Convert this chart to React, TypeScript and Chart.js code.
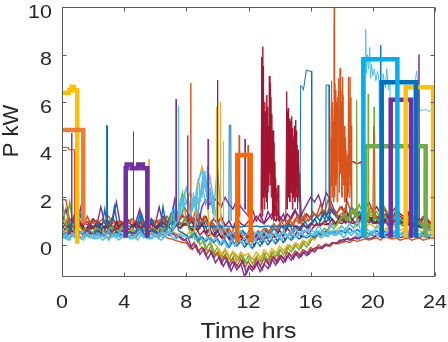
import React, { useEffect, useRef } from "react";
import { Chart, registerables } from "chart.js";
Chart.register(...registerables);

const FONT = "'Liberation Sans', Arial, Helvetica, sans-serif";
const X_TICKS = [0, 4, 8, 12, 16, 20, 24];
const Y_TICKS = [0, 2, 4, 6, 8, 10];
const X_LABEL = "Time hrs";
const Y_LABEL = "P kW";

// quarter-hour time grid (hours)
const HOURS = [
  0, 0.25, 0.5, 0.75, 1, 1.25, 1.5, 1.75, 2, 2.25, 2.5, 2.75, 3, 3.25, 3.5, 3.75,
  4, 4.25, 4.5, 4.75, 5, 5.25, 5.5, 5.75, 6, 6.25, 6.5, 6.75, 7, 7.25, 7.5, 7.75,
  8, 8.25, 8.5, 8.75, 9, 9.25, 9.5, 9.75, 10, 10.25, 10.5, 10.75, 11, 11.25, 11.5, 11.75,
  12, 12.25, 12.5, 12.75, 13, 13.25, 13.5, 13.75, 14, 14.25, 14.5, 14.75, 15, 15.25, 15.5, 15.75,
  16, 16.25, 16.5, 16.75, 17, 17.25, 17.5, 17.75, 18, 18.25, 18.5, 18.75, 19, 19.25, 19.5, 19.75,
  20, 20.25, 20.5, 20.75, 21, 21.25, 21.5, 21.75, 22, 22.25, 22.5, 22.75, 23, 23.25, 23.5, 23.75,
  24,
];
// offset grid (mid quarter-hours)
const HOURS_B = [
  0.125, 0.375, 0.625, 0.875, 1.125, 1.375, 1.625, 1.875, 2.125, 2.375, 2.625, 2.875, 3.125, 3.375, 3.625, 3.875,
  4.125, 4.375, 4.625, 4.875, 5.125, 5.375, 5.625, 5.875, 6.125, 6.375, 6.625, 6.875, 7.125, 7.375, 7.625, 7.875,
  8.125, 8.375, 8.625, 8.875, 9.125, 9.375, 9.625, 9.875, 10.125, 10.375, 10.625, 10.875, 11.125, 11.375, 11.625, 11.875,
  12.125, 12.375, 12.625, 12.875, 13.125, 13.375, 13.625, 13.875, 14.125, 14.375, 14.625, 14.875, 15.125, 15.375, 15.625, 15.875,
  16.125, 16.375, 16.625, 16.875, 17.125, 17.375, 17.625, 17.875, 18.125, 18.375, 18.625, 18.875, 19.125, 19.375, 19.625, 19.875,
  20.125, 20.375, 20.625, 20.875, 21.125, 21.375, 21.625, 21.875, 22.125, 22.375, 22.625, 22.875, 23.125, 23.375, 23.625, 23.875,
];

// household base loads on HOURS (kW)
const LB_A = [
  .35, .5, .3, .45, .3, .55, .35, .4, .3, .5, .4, .3, .6, .35, .45, .3,
  .5, .35, .3, .45, .6, .4, .3, .5, .4, .3, .55, .45, .7, .9, 1.2, 1.5,
  1.8, 2.2, 1.6, 2.7, 3.1, 2.3, 2.9, 1.9, .8, .5, .3, .45, .2, .35, .1, .3,
  .2, .4, .25, .5, .3, .45, .35, .5, .4, .6, .35, .5, .7, .45, .6, .55,
  .7, .5, .8, .6, .45, .9, .65, .5, .8, .6, .9, .7, 1.1, .5, .7, .6,
  .5, .8, .6, .45, .7, .5, .65, .4, .6, .45, .7, .5, .4, .6, .5, .35,
  .45,
];
const LB_B = [
  .25, .4, .2, .5, .3, .25, .45, .3, .45, .25, .35, .5, .2, .4, .3, .55,
  .3, .4, .25, .35, .5, .3, .45, .25, .35, .5, .3, .6, .4, .8, 1.1, 1.9,
  2.4, 1.5, 2.0, 1.3, 2.6, 1.7, 2.2, 1.4, 3.3, 1.0, .6, .4, .5, .3, .6, .4,
  .5, .3, .55, .4, .6, .35, .5, .45, .3, .55, .4, .6, .35, .5, .45, .65,
  .5, .4, .6, .45, .35, .55, .4, .6, .45, .7, .5, .6, .4, .55, .35, .5,
  .6, .4, .7, .5, .55, .35, .6, .45, .4, .55, .3, .5, .45, .35, .5, .3,
  .4,
];
const BL_A = [
  .8, .6, .9, .7, .65, .85, .6, .75, .7, .9, .6, .8, 1.0, .7, .65, .85,
  .6, .8, .75, .9, .65, .8, .7, 1.1, .75, .9, .7, .85, 1.3, .9, 1.0, .8,
  .85, .75, .8, .75, .8, .75, .8, .75, .8, .75, .8, .78, .75, .8, .75, .78,
  .8, .76, .8, .75, .78, .8, .76, .8, .78, .8, .75, .8, .78, .76, .8, .75,
  .9, 1.1, .8, 1.3, .95, 1.2, .85, 1.0, 1.1, .9, 1.3, 1.0, .8, 1.2, .9, 1.1,
  .9, 1.0, .8, 1.1, .85, .95, .75, 1.0, .8, .9, .7, .85, .75, .8, .7, .6,
  .7,
];
const BL_B = [
  .5, .4, .6, 1.2, .45, .55, .4, .5, .45, .6, .4, 1.5, .5, .35, .55, .45,
  .4, .55, .45, .5, 1.3, .4, .5, .6, .5, .45, 1.6, .55, .4, 1.4, .6, .5,
  .4, .3, .5, .2, .35, .15, .3, .1, .25, 0, .2, -.1, .15, -.05, .2, -.1,
  .1, -.15, .15, -.05, .2, 0, .25, .05, .3, .1, .35, .2, .4, .25, .35, .3,
  .4, .3, .5, .4, .6, .45, .55, .5, .6, .5, .7, .55, .65, .5, .6, .45,
  .5, .6, .45, .55, .5, .4, .55, .45, .5, .4, .55, .45, .4, .5, .35, .45,
  .4,
];
const DR_A = [
  .7, .9, .65, .8, .7, .95, .6, .85, .75, .6, .9, .7, .8, .65, .95, .7,
  .85, .7, .6, .9, .75, .8, .65, .9, .7, .85, .95, .75, .9, .8, 1.0, .85,
  .9, 1.1, .8, .6, .9, .5, .7, .4, .6, .3, .5, .25, .45, .2, .4, .15,
  .35, .1, .4, .2, .45, .25, .5, .3, .6, .4, .7, .5, .8, .6, .9, .7,
  .9, .8, .85, .9, .85, .9, .85, .95, .9, 1.0, .95, .9, 1.0, .95, 1.1, 1.0,
  1.2, 1.1, 1.3, 1.0, 1.2, 1.1, 1.4, 1.2, 1.1, 1.3, 1.0, 1.2, .9, 1.1, 1.0, .9,
  1.0,
];
const DR_B = [
  1.0, .8, 1.1, .9, 1.2, .85, 1.0, .9, 1.1, .95, .85, 1.0, .9, 1.15, .8, 1.0,
  .9, 1.05, .8, 1.0, .95, .85, 1.1, .9, 1.0, .9, 1.2, .95, 1.1, 1.3, 1.0, 1.2,
  1.1, 1.3, .9, 1.4, 1.0, 1.2, .8, 1.1, .9, 1.2, .8, 1.0, .7, 1.1, .9, .8,
  1.0, .9, 1.2, 1.0, .9, 1.1, 1.3, 1.0, 1.2, 1.0, 1.3, 1.1, 1.4, 1.2, 1.0, 1.3,
  1.1, 1.3, 1.2, 1.4, 1.2, 1.5, 1.3, 1.4, 1.6, 1.3, 3.5, 3.5, 3.4, 3.5, 1.5, 1.8,
  1.4, 1.6, 1.3, 1.5, 1.2, 1.4, 1.6, 1.3, 1.2, 1.4, 1.1, 1.3, 1.0, 1.2, 1.1, .9,
  1.0,
];
const OR_A = [
  1.9, 1.9, 1.0, .9, 1.1, .85, .95, 1.0, .9, 1.05, .85, 1.0, 1.2, .9, 1.0, .85,
  1.0, .9, 1.1, .95, .85, 1.0, .9, 1.1, .95, 1.05, .9, 1.2, 1.0, .95, 1.1, 1.3,
  1.0, 1.2, .9, 1.1, .8, 1.0, .7, .9, .6, .8, .5, .7, .4, .6, .3, .5,
  .4, .6, .3, .5, .7, .5, .8, .6, .9, .7, 1.0, .8, 1.1, .9, 1.2, 1.0,
  1.1, 1.3, 1.2, 1.5, 1.3, 1.6, 1.4, 1.2, 1.3, 1.5, 1.2, 1.4, 1.3, 1.1, 1.4, 1.2,
  1.0, 1.2, .9, 1.1, 1.0, .9, 1.2, 1.0, .9, 1.1, .8, 1.0, .9, .8, 1.0, .9,
  .9,
];
const PU_A = [
  .6, .5, .7, .55, .65, .5, .6, .55, .5, .65, .55, .6, .5, .7, .55, .6,
  .65, .55, .6, .5, .7, .6, .55, .65, .6, .5, .65, .55, .45, .5, .35, .2,
  .2, -.1, .1, -.3, -.1, -.45, -.2, -.55, -.35, -.8, -.5, -.95, -.7, -1.05, -.8, -1.33,
  -.9, -1.1, -.75, -1.12, -.8, -1.0, -.6, -.85, -.5, -.75, -.45, -.65, -.35, -.55, -.3, -.45,
  -.2, -.3, -.1, -.15, 0, -.05, .1, .05, .2, .25, .2, .3, .25, .35, .3, .25,
  .3, .4, .35, .3, .45, .35, .4, .3, .35, .3, .4, .35, .3, .4, .35, .3,
  .35,
];
const PU_B = [
  .9, 1.5, .8, 1.0, .85, 1.7, .9, .8, 1.0, .85, 1.6, .9, .8, 1.0, 1.8, .85,
  .9, 1.0, .8, .95, 1.5, .85, .9, 1.0, .85, 1.6, .9, .8, 1.0, 1.9, .85, .9,
  1.2, .9, 1.1, .7, 1.6, 1.9, 1.7, 2.0, 1.8, 1.6, 2.0, 1.7, 1.5, 1.9, 1.6, 1.4,
  1.2, 1.5, 1.0, 1.3, .9, 1.4, 1.1, 1.6, 1.0, 1.3, .8, 1.2, 1.5, 1.0, 1.4, 1.7,
  2.0, 1.8, 2.1, 1.6, 2.2, 1.9, 1.5, 1.2, 1.0, 1.3, .9, 1.1, 1.4, 1.0, 1.2, .9,
  1.1, .9, 1.2, 1.0, .8, 1.1, .9, 1.0, .8, 1.0, .9, .7, .85, .95, .8, .7,
  .8,
];
const GR_A = [
  2.0, .7, 1.8, .6, .65, .5, .7, .6, .55, .7, .6, .5, .65, .75, .55, .6,
  .7, .55, .65, .6, .5, .7, .6, .55, .65, .6, .7, .55, 1.2, .8, 1.5, 2.2,
  1.0, .5, .6, .1, .3, -.2, .1, -.4, -.1, -.5, -.2, -.6, -.3, -.7, -.4, -.75,
  -.45, -.8, -.5, -.7, -.35, -.65, -.3, -.5, -.2, -.4, -.1, -.3, 0, -.2, .1, -.1,
  .2, .3, .4, .6, .5, .8, .7, .9, 1.1, 1.3, 1.0, 1.5, 1.2, 1.4, 1.0, 1.3,
  1.2, 1.4, 1.1, 1.6, 1.3, 1.2, 1.5, 1.1, 1.0, 1.2, .9, 1.1, 1.0, .8, .9, .7,
  .8,
];
const YE_A = [
  .5, .6, .45, .55, .4, .6, .5, .45, .55, .4, .6, .5, .45, .55, .4, .5,
  .45, .5, .6, .4, .55, .45, .6, .5, .5, .4, .55, .45, .6, .5, .45, .55,
  .4, .6, .3, 2.5, 3.3, 2.8, .5, .1, -.1, -.4, -.15, -.5, -.25, -.6, -.3, -.45,
  -.35, -.6, -.3, -.55, -.2, -.45, -.15, -.35, -.05, -.25, 0, -.15, .1, -.05, .2, .05,
  .3, .2, .4, .3, .5, .6, .4, .7, .8, .6, .9, .7, .8, 1.0, .7, .9,
  .8, .7, .9, .6, .8, .7, .9, .6, .7, .6, .5, .7, .6, .5, .6, .5,
  .55,
];
const OR_B = [
  .4, .3, .5, .35, .45, .3, .4, .35, .3, .45, .35, .4, .3, .5, .35, .4,
  .45, .35, .4, .3, .5, .4, .35, .45, .4, .35, .45, .3, .25, .2, .15, .1,
  .1, -.15, .05, -.3, -.1, -.4, -.2, -.5, -.3, -.65, -.4, -.8, -.55, -.9, -.6, -.95,
  -.7, -1.0, -.6, -.9, -.55, -.8, -.45, -.7, -.4, -.6, -.3, -.5, -.25, -.45, -.2, -.35,
  -.1, -.25, 0, -.1, .05, -.05, .1, .05, .1, .15, .1, .2, .15, .2, .25, .2,
  .25, .3, .2, .35, .3, .25, .3, .2, .25, .3, .2, .25, .3, .2, .25, .3,
  .25,
];

// household base loads on HOURS_B (kW)
const N_LB = [
  .3, .2, .45, .25, .35, .2, .5, .3, .25, .4, .2, .35, .3, .45, .2, .3,
  .4, .25, .35, .2, .45, .3, .25, .4, .3, .2, .35, .5, .3, .25, .45, .35,
  .3, .5, .2, .4, .15, .35, .1, .3, 0, .25, -.1, .2, -.05, .3, 0, .2,
  -.1, .25, .05, .3, .1, .35, .15, .4, .2, .45, .25, .4, .3, .5, .35, .45,
  .4, .55, .3, .5, .35, .6, .4, .5, .3, .55, .4, .6, .35, .5, .3, .45,
  .55, .35, .5, .3, .45, .6, .35, .5, .4, .3, .5, .35, .45, .3, .4, .35,
];
const N_DR = [
  .6, .8, .55, .7, .9, .6, .75, .65, .85, .6, .7, .8, .55, .75, .65, .9,
  .6, .7, .85, .6, .75, .65, .8, .55, .7, .9, .65, .75, .6, .85, .7, .9,
  .8, .6, .7, .4, .6, .35, .5, .3, .45, .2, .4, .1, .35, .05, .3, 0,
  .25, -.05, .3, .05, .35, .1, .4, .15, .45, .2, .5, .3, .55, .35, .6, .45,
  .7, .9, .8, 1.0, .85, 1.1, .9, 1.2, 1.0, 1.3, 1.1, .9, 1.2, 1.0, 1.3, 1.1,
  .9, 1.0, .8, 1.1, .9, 1.0, .85, .95, .8, .9, .75, .85, .7, .8, .75, .7,
];
const N_GR = [
  .5, .7, .45, .6, .8, .5, .65, .4, .7, .55, .6, .45, .75, .5, .6, .8,
  .5, .65, .45, .7, .55, .6, .5, .75, .45, .6, .7, .5, .9, 1.3, .8, 1.1,
  .8, .3, .5, 0, .2, -.3, 0, -.45, -.2, -.55, -.3, -.7, -.35, -.6, -.45, -.8,
  -.5, -.65, -.4, -.75, -.3, -.55, -.25, -.45, -.15, -.35, 0, -.2, .05, -.15, .15, 0,
  .3, .5, .4, .7, .6, .9, .8, 1.1, 1.3, 1.0, 1.5, 1.2, 1.7, 1.3, 1.1, 1.4,
  1.2, 1.0, 1.3, 1.1, .9, 1.2, 1.0, .8, 1.1, .9, .7, 1.0, .8, .6, .9, .7,
];
const N_PU = [
  .5, .4, .6, .45, .55, .4, .65, .5, .45, .6, .4, .55, .5, .65, .45, .6,
  .4, .55, .5, .45, .6, .4, .55, .65, .5, .45, .6, .4, .5, .3, .35, .2,
  .3, -.2, 0, -.4, -.15, -.6, -.3, -.75, -.5, -.9, -.6, -1.1, -.75, -.95, -.65, -1.2,
  -.85, -1.0, -.7, -1.05, -.6, -.9, -.5, -.75, -.45, -.7, -.35, -.6, -.3, -.5, -.25, -.4,
  -.2, -.1, -.15, 0, -.05, .1, .05, .2, .15, .3, .2, .35, .25, .4, .3, .45,
  .35, .5, .3, .45, .4, .55, .35, .5, .4, .3, .45, .35, .5, .4, .3, .4,
];
const N_BL = [
  .7, .5, .9, .6, 1.4, .7, .55, .8, .6, .9, .5, .75, .65, 1.6, .6, .8,
  .55, .7, .9, .6, 1.3, .7, .5, .8, .65, .9, .6, .75, 1.5, .8, .7, .9,
  .9, .6, 1.2, .7, 1.0, .5, .8, .4, .7, .3, .6, .2, .5, .3, .6, .4,
  .7, .3, .5, .2, .6, .4, .7, .5, .8, .6, .9, .5, .8, .6, 1.0, .7,
  .9, 1.2, 1.0, 1.4, 1.1, 1.5, 1.2, 1.0, 1.3, 1.1, 1.6, 1.2, 1.4, 1.0, 1.3, 1.1,
  1.2, .9, 1.1, 1.3, 1.0, 1.2, .9, 1.1, .8, 1.0, .9, .7, .85, .75, .9, .8,
];
const N_OR = [
  .8, 1.1, .7, .9, 1.0, .75, 1.2, .85, .7, .95, 1.1, .8, .9, .7, 1.0, .85,
  .75, 1.05, .9, .7, 1.1, .8, .95, .75, 1.0, .85, 1.2, .9, 1.0, 1.4, 1.1, 1.6,
  1.3, 1.0, 1.5, .9, 1.2, .8, 1.0, .6, .9, .5, .7, .4, .8, .5, .6, .3,
  .5, .2, .6, .4, .7, .5, .9, .6, 1.0, .7, 1.1, .8, 1.2, .9, 1.3, 1.0,
  1.4, 1.2, 1.7, 1.3, 1.9, 1.5, 1.2, 1.6, 1.4, 1.8, 1.3, 1.5, 1.1, 1.4, 1.2, 1.6,
  1.3, 1.1, 1.4, 1.2, 1.0, 1.3, 1.1, .9, 1.2, 1.0, .8, 1.1, .9, 1.0, .8, .9,
];

// short appliance peaks (time h, kW; null = break)
const SPK_PU_T = [0.6, 0.62, 0.64, 0.65, 4.57, 4.59, 4.61, 4.62, 7.32, 7.34, 7.37, 7.38, 8.07, 8.09, 8.11, 8.12, 9.38, 9.4, 9.43, 9.44, 11.76, 11.78, 11.8, 11.81, 22.95, 22.97, 22.99];
const SPK_PU_V = [0.9, 4.7, 0.9, null, 1.0, 4.76, 1.0, null, 1.0, 6.13, 1.0, null, 1.0, 4.6, 1.0, null, 1.5, 4.45, 1.5, null, 1.5, 4.45, 1.5, null, 1.0, 8.0, 1.0];
const SPK_BL_T = [2.85, 2.87, 2.9, 2.92, 2.93, 10.74, 10.76, 10.86, 10.88, 10.89, 15.3, 15.36, 15.5, 15.53, 15.6, 15.72, 15.9, 16.05, 16.07, 16.08, 16.97, 16.99, 17.18, 17.2, 17.21, 20.48, 20.5, 20.52];
const SPK_BL_V = [0.8, 5.04, 5.0, 0.8, null, 1.0, 5.03, 5.03, 1.0, null, 1.0, 6.7, 6.6, 6.5, 6.8, 7.35, 7.3, 7.3, 1.0, null, 1.0, 6.72, 6.72, 1.0, null, 1.0, 8.4, 1.0];
const SPK_LB_T = [7.47, 7.49, 7.52, 7.53, 19.45, 19.5, 19.54, 19.58, 19.65, 19.72, 19.8, 19.85, 19.92, 20.0, 20.1, 20.2, 20.3, 20.4, 20.45, 20.46, 20.6, 20.65, 20.8, 20.9, 21.0, 21.1, 21.2, 21.21, 22.6, 22.65, 22.75, 22.82, 22.9, 23.0, 23.1, 23.2, 23.4, 23.6, 23.8, 23.95, 24.0];
const SPK_LB_V = [1.0, 5.84, 1.0, null, 1.0, 7.5, 9.06, 7.2, 8.0, 7.4, 8.3, 7.0, 7.6, 7.1, 7.4, 6.9, 7.3, 6.9, 1.0, null, 1.0, 7.2, 6.6, 7.4, 6.5, 6.9, 1.0, null, 1.0, 6.6, 7.0, 7.3, 6.8, 5.6, 5.7, 5.65, 5.7, 5.6, 5.7, 5.6, 1.0];
const SPK_LB2_T = [7.0, 7.1, 7.2, 7.3, 7.4, 7.6, 7.7, 7.8, 7.9, 8.0, 8.1, 8.2,
  8.3, 8.35, 8.4, 8.45, 8.5, 8.55, 8.6, 8.65, 8.7, 8.75, 8.8, 8.85, 8.9, 8.95, 9.0, 9.05, 9.1, 9.15, 9.2, 9.25, 9.3, 9.35, 9.4, 9.45, 9.5, 9.55, 9.6, 9.65, 9.7, 9.75, 9.8];
const SPK_LB2_V = [0.8, 1.5, 1.0, 1.8, 1.2, 1.6, 2.0, 1.4, 2.2, 1.7, 2.1, 1.5,
  1.2, 2.0, 1.4, 2.2, 1.6, 1.9, 1.3, 2.4, 1.7, 2.0, 1.5, 2.6, 1.8, 2.3, 2.0, 2.9, 2.2, 3.1, 2.4, 2.8, 2.0, 3.3, 2.5, 2.7, 1.8, 2.4, 1.6, 2.2, 1.3, 1.8, 1.0];
const SPK_OR_T = [0, 0.4, 0.42, 0.8, 0.82, 0.83, 8.26, 8.28, 8.3, 8.31, 11.38, 11.4, 11.43, 11.44, 11.95, 11.97, 12.0, 12.01,
  17.25, 17.3, 17.35, 17.38, 17.42, 17.46, 17.5, 17.52, 17.54, 17.58, 17.62, 17.66, 17.7, 17.75, 17.8, 17.84, 17.89, 17.93, 17.97, 18.01,
  18.06, 18.1, 18.15, 18.2, 18.25, 18.3, 18.35, 18.4, 18.43, 18.47, 18.53, 18.57, 18.6, 18.64, 18.65,
  19.28, 19.3, 19.35, 19.4, 19.41, 20.0, 20.05, 20.1, 20.15];
const SPK_OR_V = [4.1, 4.1, 4.0, 4.0, 1.0, null, 1.0, 6.8, 1.0, null, 1.2, 4.6, 1.2, null, 1.2, 4.2, 1.2, null,
  1.5, 5.0, 6.9, 2.0, 5.5, 1.8, 8.5, 10.5, 2.0, 6.5, 2.5, 6.0, 1.8, 4.8, 7.0, 2.2, 7.42, 3.0, 6.0, 2.0,
  7.06, 2.5, 5.0, 1.8, 4.5, 2.0, 3.5, 2.2, 7.06, 2.0, 7.06, 2.5, 5.0, 1.5, null,
  1.2, 4.8, 4.5, 1.2, null, 1.2, 5.0, 4.6, 1.2];
const SPK_OR2_T = [17.28, 17.32, 17.36, 17.4, 17.44, 17.48, 17.53, 17.56, 17.6, 17.64, 17.68, 17.72, 17.77, 17.82, 17.87, 17.91,
  17.95, 17.99, 18.03, 18.08, 18.12, 18.17, 18.22, 18.27, 18.32, 18.37, 18.41, 18.45, 18.5, 18.55, 18.59, 18.62];
const SPK_OR2_V = [1.8, 4.5, 2.5, 6.0, 3.0, 5.2, 2.5, 6.8, 3.2, 5.5, 2.8, 6.2, 3.5, 5.8, 3.0, 6.5,
  3.2, 5.4, 2.8, 6.3, 3.0, 4.6, 2.5, 4.0, 2.8, 3.8, 2.5, 6.0, 3.0, 6.2, 3.5, 1.5];
const SPK_DR_T = [9.98, 10.0, 10.03, 10.04,
  12.8, 12.85, 12.88, 12.92, 12.95, 12.98, 13.01, 13.05, 13.08, 13.12, 13.15, 13.18, 13.22, 13.26, 13.3, 13.34, 13.38, 13.42, 13.46, 13.5, 13.54, 13.58, 13.62, 13.66, 13.7, 13.75, 13.8, 13.9, 13.95, 13.96,
  14.4, 14.46, 14.5, 14.55, 14.58, 14.62, 14.66, 14.7, 14.74, 14.78, 14.82, 14.86, 14.9, 14.95, 14.99, 15.04, 15.08, 15.12, 15.16, 15.2, 15.25, 15.3, 15.4];
const SPK_DR_V = [1.0, 6.93, 1.0, null,
  1.0, 7.9, 1.2, 8.33, 2.0, 5.0, 1.5, 6.0, 2.5, 4.5, 1.8, 6.3, 1.5, 5.0, 2.5, 7.1, 3.0, 6.8, 2.0, 5.5, 1.2, 4.8, 1.0, 3.5, 1.2, 2.8, 1.0, 2.5, 1.0, null,
  1.0, 6.44, 1.5, 5.75, 2.0, 5.3, 1.8, 4.8, 2.2, 5.4, 1.5, 4.6, 2.0, 5.0, 1.8, 5.25, 2.0, 4.2, 1.5, 4.0, 1.8, 3.0, 1.2];
const SPK_DR2_T = [12.83, 12.87, 12.9, 12.94, 12.97, 13.0, 13.03, 13.07, 13.1, 13.14, 13.17, 13.2, 13.24, 13.28, 13.32, 13.36, 13.4, 13.44, 13.48, 13.52, 13.56, 13.6, 13.64, 13.68, 13.73, 13.78, 13.85, 13.86,
  14.43, 14.48, 14.52, 14.56, 14.6, 14.64, 14.68, 14.72, 14.76, 14.8, 14.84, 14.88, 14.92, 14.97, 15.01, 15.06, 15.1, 15.14, 15.18, 15.22, 15.28, 15.35];
const SPK_DR2_V = [1.5, 6.5, 2.0, 7.5, 3.0, 4.2, 2.2, 5.6, 2.0, 5.2, 3.0, 5.8, 2.2, 4.5, 3.2, 6.5, 2.5, 6.2, 2.8, 4.8, 2.0, 4.3, 1.5, 3.0, 2.0, 2.4, 1.2, null,
  1.5, 5.6, 2.5, 5.0, 2.8, 4.9, 2.2, 5.2, 2.5, 4.9, 2.0, 4.4, 2.5, 4.7, 2.2, 4.8, 2.4, 3.9, 2.0, 3.6, 2.5, 1.2];
const SPK_YE_T = [5.58, 5.6, 5.63, 5.64, 9.91, 9.93, 9.96, 9.97, 10.17, 10.19, 10.22, 10.23, 10.36, 10.38, 10.41];
const SPK_YE_V = [0.8, 3.6, 0.8, null, 1.0, 5.8, 1.0, null, 1.0, 6.0, 1.0, null, 1.0, 4.37, 1.0];
const SPK_GR_T = [18.94, 18.96, 18.99, 19.0, 19.68, 19.7, 19.73, 19.74, 20.06, 20.08, 20.11];
const SPK_GR_V = [1.0, 6.1, 1.0, null, 1.0, 6.33, 1.0, null, 1.0, 5.8, 1.0];

// EV charging sessions (time h, kW)
const EV_YE1_T = [0, 0.45, 0.47, 0.6, 0.62, 0.75, 0.77, 0.98, 0.98];
const EV_YE1_V = [6.4, 6.4, 6.5, 6.5, 6.65, 6.65, 6.5, 6.5, 0.05];
const EV_OR1_T = [0, 1.37, 1.37];
const EV_OR1_V = [4.83, 4.83, 0.9];
const EV_PU1_T = [4.1, 4.1, 4.16, 4.16, 4.48, 4.48, 4.9, 4.9, 5.2, 5.2, 5.49, 5.49];
const EV_PU1_V = [0.3, 3.22, 3.22, 3.38, 3.38, 3.22, 3.22, 3.38, 3.38, 3.22, 3.22, 0.3];
const EV_OR2_T = [11.28, 11.28, 12.14, 12.14];
const EV_OR2_V = [0.1, 3.78, 3.78, 0.1];
const EV_LB_T = [19.39, 19.39, 21.58, 21.58];
const EV_LB_V = [0.3, 7.8, 7.8, 0.3];
const EV_BL_T = [20.57, 20.57, 22.78, 22.78];
const EV_BL_V = [0.3, 6.84, 6.84, 0.3];
const EV_PU2_T = [21.15, 21.15, 22.46, 22.46];
const EV_PU2_V = [0.3, 6.1, 6.1, 0.3];
const EV_YE2_T = [22.11, 22.11, 23.88, 23.88];
const EV_YE2_V = [0.3, 6.63, 6.63, 0.3];
const EV_GR_T = [19.5, 19.5, 23.4, 23.4];
const EV_GR_V = [0.3, 4.15, 4.15, 0.3];

const AXIS_COLOR = "#262626";
const TEXT_STRETCH = 1.13;

function drawText(ctx: CanvasRenderingContext2D, text: string, x: number, y: number, align: CanvasTextAlign, sx: number, rot = 0) {
  ctx.save();
  ctx.translate(x, y);
  if (rot) ctx.rotate(rot);
  ctx.scale(sx, 1);
  ctx.textAlign = align;
  ctx.textBaseline = "alphabetic";
  ctx.fillText(text, 0, 0);
  ctx.restore();
}

const boxPlugin = {
  id: "matlabBox",
  afterDraw(chart: any) {
    const { ctx, chartArea: a, scales } = chart;
    const L = Math.round(a.left) + 0.5;
    const R = Math.round(a.right) - 0.5;
    const T = Math.round(a.top) + 0.5;
    const B = Math.round(a.bottom) - 0.5;
    ctx.save();
    ctx.strokeStyle = "#5a5a5a";
    ctx.lineWidth = 1;
    ctx.beginPath();
    ctx.rect(L, T, R - L, B - T);
    ctx.stroke();
    ctx.beginPath();
    const tl = 4;
    X_TICKS.forEach((v) => {
      const px = Math.round(scales.x.getPixelForValue(v)) + 0.5;
      ctx.moveTo(px, B);
      ctx.lineTo(px, B - tl);
      ctx.moveTo(px, T);
      ctx.lineTo(px, T + tl);
    });
    Y_TICKS.forEach((v) => {
      const py = Math.round(scales.y.getPixelForValue(v)) + 0.5;
      ctx.moveTo(L, py);
      ctx.lineTo(L + tl, py);
      ctx.moveTo(R, py);
      ctx.lineTo(R - tl, py);
    });
    ctx.stroke();

    ctx.fillStyle = AXIS_COLOR;
    ctx.font = `19px ${FONT}`;
    X_TICKS.forEach((v) => {
      drawText(ctx, String(v), scales.x.getPixelForValue(v), a.bottom + 31, "center", TEXT_STRETCH);
    });
    Y_TICKS.forEach((v) => {
      drawText(ctx, String(v), a.left - 10, scales.y.getPixelForValue(v) + 10.5, "right", TEXT_STRETCH);
    });
    ctx.font = `22px ${FONT}`;
    drawText(ctx, X_LABEL, (a.left + a.right) / 2, 338, "center", TEXT_STRETCH);
    drawText(ctx, Y_LABEL, 18, 131, "center", 1, -Math.PI / 2);
    ctx.restore();
  },
};

export default function App() {
  const ref = useRef<HTMLCanvasElement>(null);
  useEffect(() => {
    const canvas = ref.current;
    if (!canvas) return;
    const pts = (t: number[], v: (number | null)[]) => t.map((x, i) => ({ x, y: v[i] }));
    const base = (label: string, t: number[], v: number[], color: string) => ({
      label, data: pts(t, v), borderColor: color, backgroundColor: color,
      borderWidth: 1.4, pointRadius: 0, fill: false, clip: 0,
    });
    const thin = (label: string, t: number[], v: (number | null)[], color: string) => ({
      label, data: pts(t, v), borderColor: color, backgroundColor: color,
      borderWidth: 1, pointRadius: 0, fill: false, clip: 0, spanGaps: false,
    });
    const thick = (label: string, t: number[], v: number[], color: string) => ({
      label, data: pts(t, v), borderColor: color, backgroundColor: color,
      borderWidth: 4.5, pointRadius: 0, fill: false, clip: 0,
      borderJoinStyle: "miter", borderCapStyle: "butt",
    });
    const datasets: any[] = [
      thick("ev-or1", EV_OR1_T, EV_OR1_V, "#ED7D31"),
      thick("ev-ye1", EV_YE1_T, EV_YE1_V, "#FFC000"),
      thick("ev-pu1", EV_PU1_T, EV_PU1_V, "#7030A0"),
      thick("ev-or2", EV_OR2_T, EV_OR2_V, "#FF6600"),
      thick("ev-lb", EV_LB_T, EV_LB_V, "#00B0F0"),
      thick("ev-bl", EV_BL_T, EV_BL_V, "#0070C0"),
      thick("ev-ye2", EV_YE2_T, EV_YE2_V, "#FFC000"),
      thick("ev-pu2", EV_PU2_T, EV_PU2_V, "#7030A0"),
      thick("ev-gr", EV_GR_T, EV_GR_V, "#70AD47"),
      thin("spk-pu", SPK_PU_T, SPK_PU_V, "#7E2F8E"),
      thin("spk-bl", SPK_BL_T, SPK_BL_V, "#0072BD"),
      thin("spk-lb", SPK_LB_T, SPK_LB_V, "#4DBEEE"),
      thin("spk-lb2", SPK_LB2_T, SPK_LB2_V, "#4DBEEE"),
      thin("spk-or", SPK_OR_T, SPK_OR_V, "#D95319"),
      thin("spk-or2", SPK_OR2_T, SPK_OR2_V, "#D95319"),
      thin("spk-dr", SPK_DR_T, SPK_DR_V, "#A2142F"),
      thin("spk-dr2", SPK_DR2_T, SPK_DR2_V, "#A2142F"),
      thin("spk-ye", SPK_YE_T, SPK_YE_V, "#EDB120"),
      thin("spk-gr", SPK_GR_T, SPK_GR_V, "#77AC30"),
      base("lb-a", HOURS, LB_A, "#4DBEEE"),
      base("n-lb", HOURS_B, N_LB, "#4DBEEE"),
      base("lb-b", HOURS, LB_B, "#4DBEEE"),
      base("bl-b", HOURS, BL_B, "#0072BD"),
      base("n-pu", HOURS_B, N_PU, "#7E2F8E"),
      base("or-b", HOURS, OR_B, "#D95319"),
      base("ye-a", HOURS, YE_A, "#EDB120"),
      base("n-gr", HOURS_B, N_GR, "#77AC30"),
      base("gr-a", HOURS, GR_A, "#77AC30"),
      base("pu-a", HOURS, PU_A, "#7E2F8E"),
      base("n-dr", HOURS_B, N_DR, "#A2142F"),
      base("dr-a", HOURS, DR_A, "#A2142F"),
      base("bl-a", HOURS, BL_A, "#0072BD"),
      base("n-bl", HOURS_B, N_BL, "#0072BD"),
      base("or-a", HOURS, OR_A, "#D95319"),
      base("n-or", HOURS_B, N_OR, "#D95319"),
      base("pu-b", HOURS, PU_B, "#7E2F8E"),
      base("dr-b", HOURS, DR_B, "#A2142F"),
    ];
    const chart = new Chart(canvas, {
      type: "line",
      data: { datasets },
      options: {
        animation: false,
        responsive: false,
        devicePixelRatio: 1,
        layout: { padding: { left: 0, right: 13, top: 7, bottom: 0 } },
        plugins: { legend: { display: false }, tooltip: { enabled: false } },
        elements: { line: { tension: 0 } },
        scales: {
          x: {
            type: "linear", min: 0, max: 24,
            grid: { display: false, drawTicks: false },
            border: { display: false },
            ticks: { display: false },
            afterBuildTicks: (s: any) => { s.ticks = X_TICKS.map((value) => ({ value })); },
            afterFit: (s: any) => { s.height = 65; s.paddingLeft = 0; s.paddingRight = 0; },
            title: { display: false, text: X_LABEL },
          },
          y: {
            type: "linear", min: -1.35, max: 10,
            grid: { display: false, drawTicks: false },
            border: { display: false },
            ticks: { display: false },
            afterBuildTicks: (s: any) => { s.ticks = Y_TICKS.map((value) => ({ value })); },
            afterFit: (s: any) => { s.width = 62; s.paddingTop = 0; s.paddingBottom = 0; },
            title: { display: false, text: Y_LABEL },
          },
        },
      } as any,
      plugins: [boxPlugin],
    });
    return () => chart.destroy();
  }, []);
  return (
    <div style={{ position: "fixed", left: 0, top: 0, width: 448, height: 342, background: "#fff" }}>
      <canvas ref={ref} width={448} height={342} style={{ display: "block" }} />
    </div>
  );
}
